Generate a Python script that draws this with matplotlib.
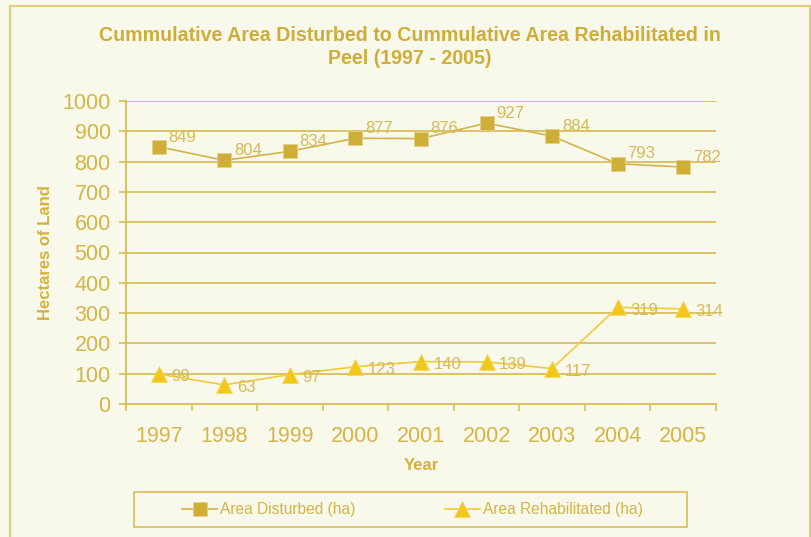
import matplotlib
matplotlib.use("Agg")
import matplotlib.pyplot as plt
from matplotlib.patches import Rectangle
from matplotlib.ticker import FixedLocator

years = ["1997", "1998", "1999", "2000", "2001", "2002", "2003", "2004", "2005"]
disturbed = [849, 804, 834, 877, 876, 927, 884, 793, 782]
rehabilitated = [99, 63, 97, 123, 140, 139, 117, 319, 314]
yticks = [0, 100, 200, 300, 400, 500, 600, 700, 800, 900, 1000]

BG = "#F8F8EB"
GOLD = "#D3B23E"
SQ = "#CEAE36"
TRI = "#F2C71C"
TXT = "#D4B548"
LBL = "#D6BA58"

plt.rcParams['font.family'] = ['Liberation Sans', 'DejaVu Sans']

W, H = 812, 537
fig = plt.figure(figsize=(W / 100, H / 100), dpi=100, facecolor=BG)

# outer border
fig.patches.append(Rectangle((10 / W, -0.05), 800 / W, 1.05 - 6 / H, transform=fig.transFigure,
                             fill=False, edgecolor="#E2CB7E", linewidth=1.5))
# legend frame
fig.patches.append(Rectangle((134 / W, 1 - 527 / H), (687 - 134) / W, 35 / H, transform=fig.transFigure,
                             fill=False, edgecolor="#D8BC54", linewidth=1.2))

L, R, T, B = 126, 716, 101, 404
ax = fig.add_axes([L / W, 1 - B / H, (R - L) / W, (B - T) / H])
ax.set_facecolor(BG)

x = list(range(len(years)))
ax.plot(x, disturbed, color="#D2B448", linewidth=1.2, marker="s", markersize=10,
        markerfacecolor=SQ, markeredgecolor="#E4D08A", markeredgewidth=0.6,
        label="Area Disturbed (ha)", zorder=3)
ax.plot(x, rehabilitated, color="#F0CB3A", linewidth=1.2, marker="^", markersize=12,
        markerfacecolor=TRI, markeredgecolor="#F4D862", markeredgewidth=0.6,
        label="Area Rehabilitated (ha)", zorder=3)

for xi, v in zip(x, disturbed):
    ax.annotate(str(v), (xi, v), xytext=(7, 7), textcoords="offset points",
                ha="left", va="center", fontsize=12, color=LBL, zorder=4)
for xi, v in zip(x, rehabilitated):
    ax.annotate(str(v), (xi, v), xytext=(9, -2), textcoords="offset points",
                ha="left", va="center", fontsize=12, color=LBL, zorder=4)

ax.set_xlim(-0.5, len(years) - 0.5)
ax.set_ylim(0, 1000)
ax.set_yticks(yticks)
ax.set_yticklabels([str(t) for t in yticks])
ax.set_xticks(x)
ax.set_xticklabels(years)
ax.xaxis.set_minor_locator(FixedLocator([i - 0.5 for i in range(len(years) + 1)]))

for t in yticks[1:]:
    ax.axhline(t, color="#D9BE5A", linewidth=1.3, zorder=1)

for s in ["top", "right"]:
    ax.spines[s].set_visible(False)
for s in ["left", "bottom"]:
    ax.spines[s].set_color("#D8BC54")
    ax.spines[s].set_linewidth(1.3)

ax.tick_params(axis="y", direction="out", length=5, width=1.2, color="#D8BC54",
               labelcolor=TXT, labelsize=15.5, pad=6)
ax.tick_params(axis="x", which="major", length=0, labelcolor=TXT, labelsize=15.5, pad=16)
ax.tick_params(axis="x", which="minor", direction="out", length=5, width=1.2, color="#D8BC54")

ax.set_xlabel("Year", fontsize=12, fontweight="bold", color=GOLD, labelpad=8)
ax.set_ylabel("Hectares of Land", fontsize=12, fontweight="bold", color=GOLD, labelpad=7)

fig.text(410 / W, 1 - 47 / H, "Cummulative Area Disturbed to Cummulative Area Rehabilitated in\nPeel (1997 - 2005)",
         ha="center", va="center", fontsize=14.1, fontweight="bold", color="#CFAD38", linespacing=1.3)

leg = ax.legend(loc="center", bbox_to_anchor=((182 + 643) / 2 / W, 1 - (492 + 527) / 2 / H),
                bbox_transform=fig.transFigure, ncol=2, frameon=False,
                fontsize=11.2, labelcolor=TXT, columnspacing=5.8, handlelength=2.2,
                borderpad=0.0, borderaxespad=0.0, handletextpad=0.2)

fig.savefig("out.png", dpi=100, facecolor=BG)
